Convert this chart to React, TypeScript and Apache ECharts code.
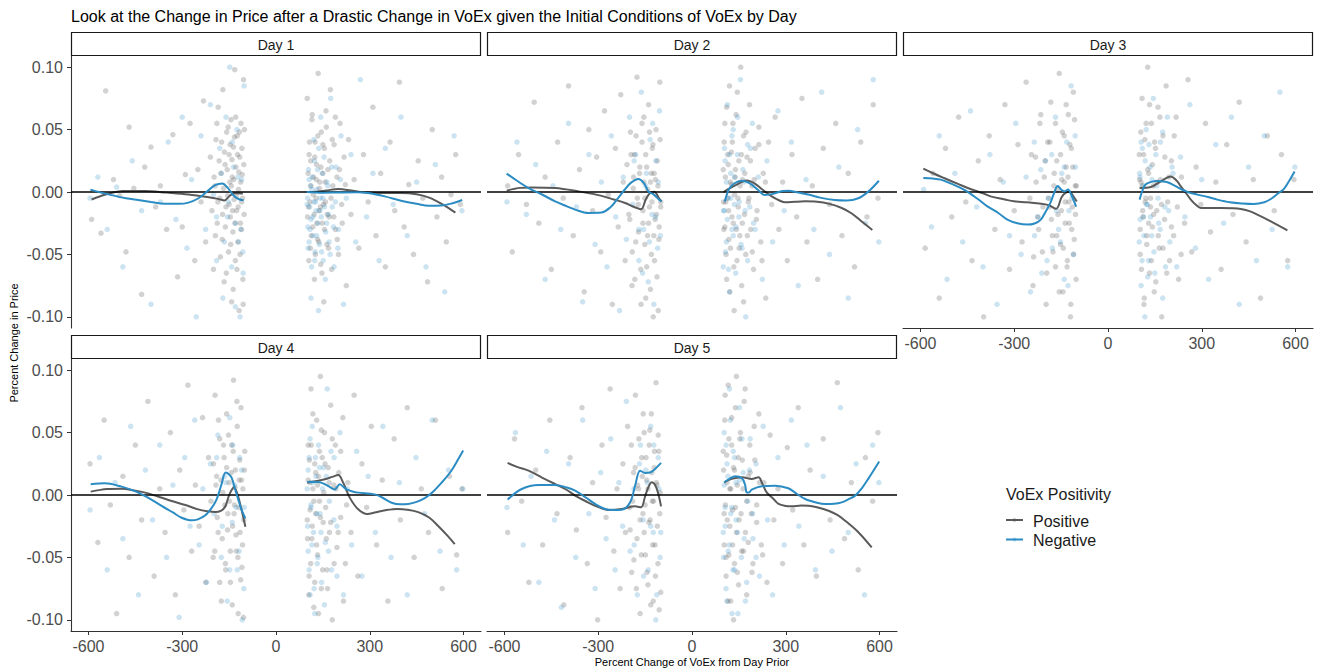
import { useEffect, useRef } from "react";
import * as echarts from "echarts";

const FONT = "'Liberation Sans', Arial, Helvetica, sans-serif";
const GREY = "#5a5a5a";
const BLUE = "#2b8cc4";

const dayLabels = ["Day 1", "Day 2", "Day 3", "Day 4", "Day 5"];
const xTickValues = [-600, -300, 0, 300, 600];
const yTickValues = [-0.1, -0.05, 0, 0.05, 0.1];
const legendLabels = ["Positive", "Negative"];

// Scatter observations: flat (x, y) pairs, x in percent, y in thousandths of price change
const day1PosPts = [
  -590, -22, -560, -33, -545, 81, -520, 10, -500, -3, -480, -48, -470, 52, -455, 3, -430, -82, -420, 20, -400, 36, -385, -12,
  -370, 5, -350, -30, -330, 46, -315, -68, -300, -28, -290, 14, -275, 55, -260, -55, -250, 18, -240, -8, -232, 73, -225, -40,
  -210, 28, -205, -15, -200, -62, -195, 5, -192, 42, -188, -25, -185, 68, -180, -5, -176, 15, -172, -38, -170, 82, -166, -72,
  -163, 22, -160, -12, -158, 48, -155, -3, -152, -48, -150, 30, -148, 8, -146, -20, -144, 58, -142, -88, -140, 12, -138, -32,
  -136, 36, -134, -6, -132, 98, -130, -55, -128, 20, -126, -15, -124, 45, -122, -40, -120, 2, -118, -95, -116, 28, -114, -25,
  -112, 55, -110, -8, -108, 14, -106, -70, -104, 90, -102, -18,
  100, 75, 104, -12, 106, 30, 110, -45, 112, 5, 115, 58, 118, -28, 120, 12, 123, -70, 125, 40, 128, -5, 130, 22, 133, -38,
  135, 95, 138, -15, 140, 8, 143, -58, 145, 48, 148, -25, 150, 15, 153, -88, 155, 35, 158, -8, 160, 65, 163, -42, 166, 18,
  170, -20, 174, 82, 178, -62, 182, 5, 186, 38, 190, -30, 195, 12, 200, -50, 205, 55, 210, -10, 218, 28, 225, -75, 232, 42,
  240, -18, 250, 10, 265, -45, 280, 30, 295, -8, 310, 68, 320, -35, 335, 15, 350, -60, 365, 40, 380, -15, 395, 88, 410, -28,
  425, 6, 440, -50, 455, 25, 470, -5, 485, -72, 500, 50, 515, -20, 530, 12, 545, -40, 560, -2, 575, 30, 590, -10,
];
const day1PosDense = [
  -198, 12, -194, -35, -189, 55, -186, -8, -182, 25, -178, -52, -174, 40, -171, -18, -168, 3, -165, 32, -162, -28, -159, -65,
  -156, 18, -153, 52, -150, -10, -147, 38, -145, -42, -143, 5, -141, 26, -139, -15, -137, -78, -135, 10, -133, 44, -131, -25,
  -129, 60, -127, -3, -125, -62, -123, 30, -121, -12, -119, 16, -117, 48, -115, -50, -113, 8, -111, -30, -109, 35, -107, -5,
  -105, -90, -103, 22, -101, 50,
  101, -20, 103, 15, 105, -55, 107, 40, 109, -8, 111, 25, 113, -35, 116, 62, 119, -2, 122, -18, 124, 28, 126, -50, 129, 10,
  131, -25, 134, 45, 137, -40, 139, 3, 142, -12, 144, 20, 147, -65, 150, 38, 152, -10, 155, -30, 157, 8, 161, 52, 164, -18,
  168, -45, 172, 25, 176, -5, 180, 42, 185, -20, 190, 60, 196, -38, 203, 18, 212, -25, 222, 6,
];
const day1NegPts = [
  -595, -5, -570, 12, -540, -30, -510, 4, -490, -60, -460, 25, -430, -15, -400, -90, -370, -8, -345, 40, -320, -22, -300, 60,
  -285, -45, -270, 10, -255, -100, -240, 45, -225, -30, -210, 70, -200, -2, -190, -55, -180, 35, -170, -85, -160, 60, -155, -20,
  -148, 100, -142, -60, -136, 20, -130, -92, -125, 50, -120, -40, -115, -100, -110, 10, -105, -65, -102, 85,
  100, -10, 103, -45, 106, 10, 109, -30, 112, -85, 115, 2, 118, -20, 121, 42, 124, -55, 127, -8, 130, -35, 133, 18, 136, -95,
  140, -15, 143, 60, 146, -48, 150, -5, 154, 28, 158, -70, 162, -25, 166, 5, 170, -40, 175, 75, 180, -12, 186, -60, 192, 20,
  200, -30, 208, 45, 216, -90, 225, -5, 240, 30, 255, -40, 270, 90, 290, -20, 310, 15, 330, -55, 350, 35, 375, -10, 400, 60,
  420, -35, 450, 8, 480, -60, 510, 22, 540, -80, 570, 45, 595, -15,
];
const day1NegDense = [
  -190, -20, -175, 15, -165, -40, -152, -8, -140, 40, -130, -25, -122, 12, -112, -30, -106, -48,
  101, -5, 102, -28, 104, 18, 106, -40, 108, -12, 110, 5, 112, -22, 114, -60, 116, 12, 118, -35, 121, -8, 123, 25, 125, -48,
  128, -15, 131, 2, 134, -25, 137, 35, 139, -42, 142, -5, 145, -20, 148, 15, 151, -55, 155, -12, 159, -32, 163, 8, 168, -18,
  173, -50, 178, 20, 184, -28, 190, -8, 198, -45, 206, 10,
];
const day2PosPts = [
  -590, 5, -575, -48, -555, 30, -530, -10, -505, 72, -490, -25, -470, 12, -450, -62, -430, 40, -412, -5, -395, 85, -380, -35,
  -360, 18, -345, -80, -330, 50, -318, -15, -305, 28, -292, -48, -280, 65, -268, -2, -255, -90, -245, 35, -236, -28, -228, 78,
  -220, 8, -214, -55, -208, 22, -202, -18, -197, 48, -192, -75, -188, 3, -184, 30, -180, -40, -176, 92, -172, -10, -168, 15,
  -164, -62, -160, 40, -157, -25, -154, 60, -151, -5, -148, -85, -145, 20, -142, -35, -139, 70, -136, -12, -133, 8, -130, -50,
  -127, 35, -124, -100, -121, 15, -118, -22, -115, 50, -112, -68, -109, 5, -106, -38, -103, 88, -100, -8,
  100, 18, 102, -30, 105, 55, 108, -8, 111, -70, 114, 30, 117, -15, 120, 85, 123, -45, 126, 6, 129, 40, 132, -25, 135, -95,
  138, 12, 141, 62, 144, -55, 147, -5, 150, 25, 153, -35, 156, 100, 159, -75, 162, 10, 165, 45, 168, -18, 172, -50, 176, 28,
  180, -8, 184, 70, 188, -30, 192, 5, 197, -62, 202, 35, 208, -15, 214, 52, 220, -40, 228, 15, 236, -85, 245, 40, 255, -10,
  266, 60, 278, -30, 290, 8, 305, -55, 320, 30, 335, -20, 352, 75, 368, -40, 385, 5, 402, -70, 420, 35, 440, -10, 460, 55,
  480, -35, 500, 15, 520, -60, 540, 40, 560, -20, 580, 70, 595, -5,
];
const day2PosDense = [
  -199, -22, -195, 30, -191, -48, -187, 12, -183, -70, -179, 45, -175, -5, -171, -32, -167, 20, -163, -90, -160, 55, -157, -15,
  -154, 8, -151, -42, -148, 30, -145, -60, -142, 2, -139, -25, -136, 48, -133, -78, -130, 15, -128, -8, -125, 38, -122, -35,
  -120, -55, -117, 10, -114, -18, -111, 25, -108, -95, -105, -28, -102, 42, -100, -12,
  101, -8, 103, 40, 105, -28, 107, 12, 109, -50, 111, 68, 113, -5, 116, 22, 118, -38, 121, -80, 123, 8, 126, 32, 128, -20,
  131, 55, 134, -60, 136, -2, 139, 18, 142, -30, 145, 80, 148, -12, 151, -45, 154, 5, 158, 30, 161, -25, 165, -88, 169, 15,
  173, 48, 177, -35, 182, -5, 187, 25, 193, -48, 199, 10, 206, -22, 214, 38, 224, -55, 235, 8,
];
const day2NegPts = [
  -592, -8, -560, 40, -530, -18, -500, 22, -470, -70, -445, 5, -420, -30, -395, 55, -370, -12, -350, -88, -330, 30, -310, -42,
  -290, 8, -272, -60, -258, 45, -244, -20, -232, -95, -220, 12, -210, -38, -200, 60, -190, -10, -180, 30, -170, -55, -162, 80,
  -155, -30, -148, 5, -140, -72, -134, 42, -128, -18, -122, -90, -116, 25, -110, -45, -104, 65,
  100, -60, 103, -15, 106, 25, 110, -40, 113, 70, 116, -5, 120, -80, 124, 15, 128, -30, 132, 50, 136, -10, 140, -65, 145, 30,
  150, -20, 155, 90, 160, -45, 166, 8, 172, -100, 178, 38, 185, -12, 193, 55, 202, -30, 212, 12, 225, -70, 240, 25, 258, -40,
  275, 65, 295, -15, 318, 40, 340, -75, 365, 10, 390, -30, 415, 80, 440, -50, 470, 20, 500, -85, 530, 50, 555, -25, 580, 90,
  598, -40,
];
const day2NegDense = [
  -185, 25, -170, -30, -158, -65, -146, 15, -136, -40, -126, 55, -117, -20, -108, 8, -101, -35,
  101, -15, 104, 35, 107, -48, 110, 8, 113, -22, 117, -62, 120, 30, 124, -5, 128, 45, 132, -35, 136, 12, 141, -28, 146, 60,
  151, -8, 157, -42, 163, 18, 170, -15, 178, -55, 187, 35, 197, -25,
];
const day3PosPts = [
  -585, -45, -560, 15, -540, -85, -520, 35, -500, -20, -478, 60, -455, -8, -435, -55, -415, 25, -398, -100, -380, 45, -362, -30,
  -345, 10, -330, 70, -315, -62, -300, -15, -288, 38, -275, -40, -262, 88, -250, -5, -240, -75, -232, 28, -225, -20, -218, 55,
  -210, -48, -204, 12, -198, -90, -193, 40, -188, -12, -183, 72, -178, -35, -173, 5, -168, -60, -164, 25, -160, -18, -156, 95,
  -152, -42, -148, 10, -144, -80, -140, 45, -137, -8, -134, 20, -130, -55, -127, 62, -124, -25, -120, -100, -117, 35, -114, -12,
  -111, 80, -108, -38, -105, 5, -102, -70,
  100, 30, 103, -50, 106, 8, 109, 75, 112, -20, 115, -90, 118, 42, 121, -5, 124, -35, 127, 100, 130, 15, 133, -65, 136, -12,
  139, 55, 142, -28, 145, 5, 148, -80, 152, 35, 156, -15, 160, 68, 164, -45, 168, 10, 172, -100, 176, 45, 181, -22, 186, 85,
  191, -8, 197, -55, 203, 25, 210, -35, 218, 60, 226, -70, 235, 12, 245, -25, 256, 90, 268, -48, 282, 20, 297, -10, 312, 55,
  328, -32, 345, 8, 362, -62, 380, 38, 400, -18, 420, 72, 442, -40, 465, 10, 488, -85, 510, 45, 532, -15, 555, 30, 575, -55,
  595, 10,
];
const day3PosDense = [
  -245, 30, -238, -52, -230, 8, -222, -30, -215, 62, -208, -12, -201, 25, -196, -65, -191, -5, -186, 40, -181, -22, -176, -48,
  -172, 15, -168, 55, -164, -35, -160, 2, -156, -80, -152, 30, -149, -15, -146, 48, -143, -45, -140, 8, -137, -25, -134, 70,
  -131, -60, -128, 12, -125, -8, -122, 38, -119, -90, -116, -30, -113, 20, -110, -50, -107, 58, -104, -18, -101, 5,
  101, 10, 103, -30, 105, 48, 107, -62, 109, 5, 111, -15, 114, 30, 116, -85, 119, -8, 122, 55, 124, -42, 127, 18, 130, -25,
  133, 70, 136, -5, 139, -55, 142, 22, 146, -18, 149, 40, 153, -72, 157, 8, 161, -35, 166, 60, 171, -10, 176, -45, 182, 28,
  188, -65, 195, 12, 203, -28, 212, 45, 222, -12, 234, -50,
];
const day3NegPts = [
  -590, 2, -565, -28, -540, 45, -515, -70, -490, 15, -465, -40, -440, 65, -420, -12, -400, -60, -378, 30, -355, -90, -335, 8,
  -315, -35, -295, 55, -278, -50, -262, 12, -248, -80, -236, 40, -224, -20, -212, -65, -200, 25, -190, -5, -178, -45, -168, 60,
  -158, -30, -148, 15, -140, -70, -132, 40, -125, -15, -118, 85, -111, -50, -104, 20,
  100, -40, 103, 12, 106, -75, 110, 35, 114, -20, 118, -100, 122, 50, 126, -10, 130, -55, 135, 20, 140, -35, 145, 75, 150, -65,
  156, 5, 162, -25, 168, 40, 175, -85, 182, -12, 190, 60, 198, -40, 208, 15, 220, -60, 232, 28, 246, -20, 262, 70, 280, -45,
  300, 10, 322, -70, 345, 38, 370, -25, 395, 60, 420, -90, 450, 20, 475, -55, 500, 45, 525, -30, 550, 80, 575, -60, 598, 20,
];
const day3NegDense = [
  -235, -35, -215, 18, -195, -55, -180, 30, -165, -15, -152, -40, -140, 20, -128, -75, -115, -5, -105, 45,
  101, 15, 103, -22, 106, 40, 109, -55, 112, 5, 115, -35, 119, 25, 123, -10, 127, -68, 131, 38, 136, -20, 141, 10, 147, -48,
  153, 30, 160, -5, 167, -30, 175, 48, 184, -60, 194, -15, 205, 20,
];
const day4PosPts = [
  -595, 25, -570, -38, -550, 60, -530, -8, -510, -95, -490, 15, -470, -50, -450, 40, -430, -20, -410, 75, -390, -65, -372, 5,
  -355, -30, -338, 50, -322, -80, -308, 20, -295, -12, -282, 88, -270, -45, -258, 8, -246, -25, -235, 62, -225, -70, -216, 30,
  -208, -5, -201, -50, -195, 80, -190, 15, -185, -30, -180, 45, -175, -85, -170, 2, -166, 30, -162, -55, -158, 65, -154, -15,
  -150, 10, -146, -70, -142, 40, -139, -25, -136, 92, -133, -8, -130, 20, -127, -45, -124, 55, -121, -95, -118, 12, -115, -30,
  -112, 70, -109, -58, -106, 5, -103, -20, -100, 35,
  100, -20, 103, 40, 106, -65, 109, 10, 112, 85, 115, -35, 118, 5, 121, -90, 124, 25, 127, -15, 130, 60, 133, -48, 136, 15,
  139, -5, 142, 95, 145, -75, 148, 30, 151, -22, 155, 50, 159, -10, 163, -60, 167, 22, 171, -30, 175, 72, 180, -100, 185, 8,
  190, 40, 195, -42, 201, 18, 207, -18, 214, 62, 222, -55, 230, 10, 240, -30, 250, 80, 262, -65, 275, 25, 290, -10, 305, 55,
  322, -40, 340, 12, 358, -85, 378, 45, 398, -20, 420, 70, 442, -50, 465, 5, 488, -30, 510, 60, 532, -75, 555, 15, 578, -48,
  595, 5,
];
const day4PosDense = [
  -200, 25, -196, -45, -192, 8, -188, -18, -184, 60, -180, -70, -176, 12, -172, -35, -168, 40, -164, -8, -161, -60, -158, 22,
  -155, -28, -152, 48, -149, -5, -146, -45, -143, 18, -140, -88, -137, 35, -134, -15, -131, 6, -128, -32, -125, 75, -122, -50,
  -119, -10, -116, 28, -113, -68, -110, 12, -107, -40, -104, -98, -101, 20,
  101, -35, 103, 12, 105, -80, 107, 28, 109, -12, 111, -55, 113, 40, 116, -25, 118, 65, 121, -5, 124, -70, 127, 18, 130, -40,
  133, 8, 136, -95, 139, 35, 142, -18, 145, 52, 149, -60, 153, 2, 157, 25, 161, -35, 165, -75, 170, 10, 175, -22, 180, 45,
  186, -55, 192, 5, 199, -30, 207, 35, 216, -85, 226, -8,
];
const day4NegPts = [
  -595, -12, -565, 30, -540, -60, -515, 10, -490, -35, -465, 55, -440, -80, -418, 20, -395, -20, -372, 40, -350, -50, -330, 8,
  -310, -98, -292, 30, -275, -25, -260, 60, -246, -40, -234, 5, -222, -70, -210, 25, -198, -15, -186, 48, -175, -50, -165, 15,
  -156, -85, -148, 62, -140, -22, -132, 8, -124, -60, -116, 30, -108, -100, -102, -10,
  100, 5, 103, -45, 106, 30, 109, -80, 112, -10, 116, 55, 120, -30, 124, -95, 128, 15, 132, -55, 136, 40, 141, -15, 146, -70,
  152, 22, 158, -38, 164, 85, 171, -5, 178, -60, 186, 30, 195, -25, 205, 50, 216, -80, 228, 5, 242, -40, 258, 35, 275, -65,
  295, 15, 318, -30, 342, 55, 368, -50, 395, 10, 420, -80, 448, 30, 475, -15, 500, 60, 525, -45, 552, 20, 578, -60, 598, 5,
];
const day4NegDense = [
  -190, 30, -172, -25, -160, 10, -148, -60, -138, 40, -128, -10, -118, -45, -110, 20, -103, -75,
  101, -25, 103, 20, 106, -60, 109, 45, 112, -8, 115, -40, 118, 10, 122, -75, 126, 30, 130, -15, 134, -50, 139, 22, 144, -30,
  149, 5, 155, -88, 161, 15, 168, -45, 176, 35, 185, -20, 195, -65,
];
const day5PosPts = [
  -590, -30, -568, 45, -545, -5, -522, -70, -500, 20, -478, -40, -455, 60, -432, -15, -410, -88, -390, 30, -370, -28, -352, 70,
  -335, -55, -318, 10, -302, -100, -288, 40, -275, -18, -262, 85, -250, -45, -240, 5, -230, -75, -221, 25, -213, -30, -206, 55,
  -199, -10, -193, -62, -187, 18, -181, 80, -176, -35, -171, 5, -166, -95, -161, 30, -157, -15, -153, 50, -149, -48, -145, 12,
  -141, -72, -137, 40, -134, -20, -130, 65, -127, -5, -124, -85, -121, 22, -118, -40, -115, 90, -112, 8, -109, -55, -106, 35,
  -103, -15, -100, -78,
  100, 35, 103, -15, 106, 80, 109, -50, 112, 10, 115, -85, 118, 45, 121, -25, 124, 5, 127, 62, 130, -40, 133, -100, 136, 20,
  139, -10, 142, 95, 145, -62, 148, 30, 151, -20, 155, 50, 159, -45, 163, 5, 167, 75, 171, -30, 175, -80, 180, 15, 185, 40,
  190, -15, 195, -55, 201, 28, 207, -8, 214, 65, 222, -40, 230, 10, 240, -70, 250, 48, 262, -20, 275, 5, 290, -55, 305, 38,
  322, -12, 340, 70, 358, -40, 378, 20, 398, -65, 420, 45, 442, -20, 465, 90, 488, -35, 510, 10, 532, -60, 555, 30, 578, -5,
  595, 50,
];
const day5PosDense = [
  -198, -28, -194, 40, -190, -5, -186, -52, -182, 22, -178, -75, -174, 8, -170, 45, -166, -20, -162, -48, -159, 15, -156, 65,
  -153, -30, -150, -8, -147, 30, -144, -62, -141, 5, -138, -22, -135, 52, -132, -88, -129, 18, -126, -40, -123, -5, -120, 35,
  -117, -65, -114, 10, -111, -25, -108, 48, -105, -92, -102, 2,
  101, 20, 103, -40, 105, 60, 107, -8, 109, -65, 111, 32, 113, -20, 116, 88, 118, -48, 121, 5, 124, -85, 127, 40, 130, -12,
  133, 22, 136, -55, 139, 70, 142, -30, 145, 8, 149, -72, 153, 45, 157, -15, 161, 28, 165, -45, 170, 85, 175, -5, 180, -38,
  186, 18, 192, -62, 199, 55, 207, -22, 216, 10, 226, -48,
];
const day5NegPts = [
  -592, -10, -565, 50, -540, -40, -515, 15, -490, -70, -465, 35, -440, -20, -418, -90, -395, 25, -372, -50, -350, 60, -330, -15,
  -310, -75, -292, 18, -275, -35, -260, 45, -246, -60, -234, 10, -222, -25, -210, 75, -198, -45, -186, 5, -175, -80, -165, 40,
  -156, -20, -148, 20, -140, -60, -132, 55, -124, -30, -116, -100, -108, 30, -102, -50,
  100, -30, 103, 50, 106, -10, 109, -75, 112, 25, 116, -45, 120, 85, 124, -15, 128, -95, 132, 35, 136, -60, 141, 10, 146, -30,
  152, 70, 158, -50, 164, 18, 171, -85, 178, -5, 186, 45, 195, -35, 205, 25, 216, -65, 228, 55, 242, -20, 258, -80, 275, 30,
  295, -40, 318, 60, 342, -25, 368, 40, 395, -60, 420, 15, 448, -45, 475, 70, 500, -30, 525, 25, 552, -80, 578, 40, 598, 10,
];
const day5NegDense = [
  -185, -40, -168, 25, -155, -65, -143, 10, -132, -25, -122, 40, -113, -80, -106, 5, -100, -30,
  101, -50, 103, 8, 106, -25, 109, 40, 112, -85, 115, 15, 119, -40, 123, 60, 127, -10, 131, -60, 136, 30, 141, -20, 147, -95,
  153, 12, 160, 45, 167, -35, 175, -70, 184, 20, 194, -15, 205, -50,
];

// Smoothed trend knots: [x, price change]
const day1PosLeft = [[-590, -0.006], [-545, -0.002], [-490, 0.0008], [-420, 0.0008], [-350, -0.0005], [-280, -0.002], [-220, -0.004], [-185, -0.0055], [-165, -0.0068], [-148, -0.003], [-132, -0.001], [-106, -0.0012]];
const day1NegLeft = [[-594, 0.0019], [-560, -0.0005], [-526, -0.0025], [-480, -0.005], [-441, -0.0065], [-400, -0.008], [-356, -0.0095], [-310, -0.0095], [-280, -0.0085], [-248, -0.005], [-220, 0.0005], [-195, 0.0055], [-172, 0.0068], [-155, 0.0035], [-135, -0.003], [-118, -0.0058], [-104, -0.0066]];
const day1PosRight = [[98, 0], [130, 0.0003], [160, 0.0012], [200, 0.0024], [240, 0.0012], [280, -0.0002], [330, -0.0008], [400, -0.0008], [450, -0.0018], [490, -0.0045], [530, -0.0095], [574, -0.0165]];
const day1NegRight = [[98, 0], [150, -0.0006], [200, -0.0004], [260, -0.0002], [300, -0.001], [348, -0.0035], [400, -0.007], [450, -0.0095], [490, -0.011], [530, -0.0108], [565, -0.009], [596, -0.0064]];

const day2PosLeft = [[-593, 0.0011], [-550, 0.0033], [-513, 0.0037], [-438, 0.0032], [-363, 0.0005], [-300, -0.0025], [-250, -0.006], [-214, -0.0088], [-185, -0.012], [-163, -0.0138], [-148, -0.006], [-135, -0.001], [-120, 0.0003], [-108, -0.004], [-98, -0.0077]];
const day2NegLeft = [[-593, 0.0147], [-560, 0.009], [-523, 0.0032], [-480, -0.002], [-438, -0.0075], [-400, -0.0115], [-374, -0.0141], [-331, -0.0168], [-290, -0.0165], [-260, -0.012], [-240, -0.006], [-215, 0.002], [-195, 0.0075], [-172, 0.0105], [-155, 0.0075], [-138, 0], [-125, -0.0015], [-112, -0.0045], [-98, -0.0077]];
const day2PosRight = [[101, 0], [120, 0.003], [140, 0.0055], [175, 0.0093], [200, 0.007], [225, 0.002], [255, -0.0035], [280, -0.0068], [298, -0.0083], [330, -0.0078], [362, -0.0075], [400, -0.0078], [440, -0.0095], [479, -0.0128], [510, -0.017], [540, -0.023], [577, -0.0304]];
const day2NegRight = [[105, -0.0077], [118, 0.002], [135, 0.0068], [158, 0.009], [185, 0.007], [210, 0.002], [233, -0.0024], [260, -0.0015], [290, 0.0008], [308, 0.001], [340, -0.0005], [372, -0.002], [410, -0.0045], [457, -0.0064], [495, -0.0068], [532, -0.005], [565, 0.0005], [598, 0.009]];

const day3PosLeft = [[-591, 0.0187], [-560, 0.015], [-525, 0.0112], [-480, 0.0065], [-440, 0.0024], [-400, -0.001], [-376, -0.0035], [-330, -0.006], [-301, -0.0075], [-260, -0.0082], [-220, -0.0092], [-190, -0.0105], [-166, -0.0135], [-148, -0.004], [-135, -0.0005], [-124, 0.0003], [-112, -0.003], [-100, -0.0077]];
const day3NegLeft = [[-591, 0.0112], [-560, 0.0108], [-535, 0.0099], [-500, 0.0065], [-461, 0.0019], [-420, -0.005], [-386, -0.0115], [-350, -0.017], [-322, -0.0221], [-290, -0.025], [-258, -0.0261], [-235, -0.0252], [-215, -0.0221], [-198, -0.015], [-184, -0.0085], [-172, -0.0005], [-161, 0.0048], [-148, 0.0015], [-138, 0.0005], [-128, 0.002], [-118, -0.002], [-102, -0.0117]];
const day3PosRight = [[101, 0.0032], [137, 0.004], [169, 0.0085], [201, 0.0125], [220, 0.009], [233, 0.0045], [250, -0.001], [265, -0.0061], [282, -0.0105], [297, -0.0128], [330, -0.0128], [361, -0.0128], [400, -0.013], [425, -0.0136], [455, -0.0155], [478, -0.0181], [521, -0.0235], [574, -0.0307]];
const day3NegRight = [[101, -0.0061], [110, 0.001], [120, 0.006], [141, 0.0083], [158, 0.0088], [172, 0.0085], [190, 0.0078], [210, 0.0055], [233, 0.0024], [260, -0.0005], [286, -0.0021], [320, -0.004], [350, -0.0061], [390, -0.0082], [430, -0.0092], [467, -0.0096], [500, -0.0082], [521, -0.0056], [545, -0.001], [563, 0.0025], [580, 0.009], [597, 0.0165]];

const day4PosLeft = [[-593, 0.0027], [-540, 0.0048], [-494, 0.0051], [-450, 0.0035], [-419, 0.0019], [-380, -0.001], [-334, -0.0048], [-290, -0.008], [-249, -0.0115], [-220, -0.013], [-195, -0.0137], [-175, -0.0125], [-162, -0.009], [-151, -0.0008], [-142, 0.004], [-135, 0.006], [-125, 0.002], [-112, -0.01], [-98, -0.0254]];
const day4NegLeft = [[-593, 0.0086], [-548, 0.0094], [-494, 0.0067], [-450, 0.003], [-430, 0.0005], [-400, -0.0035], [-366, -0.0088], [-330, -0.014], [-302, -0.0182], [-270, -0.0203], [-250, -0.0195], [-227, -0.0165], [-205, -0.01], [-190, -0.0035], [-175, 0.008], [-161, 0.018], [-150, 0.0165], [-142, 0.0139], [-130, 0.004], [-121, -0.0035], [-110, -0.012], [-98, -0.0187]];
const day4PosRight = [[100, 0.0099], [130, 0.0112], [156, 0.0126], [180, 0.0145], [199, 0.016], [215, 0.0099], [236, -0.0021], [263, -0.0115], [292, -0.0153], [320, -0.0138], [350, -0.0122], [389, -0.0112], [420, -0.0118], [455, -0.0137], [490, -0.018], [519, -0.0249], [550, -0.033], [572, -0.0394]];
const day4NegRight = [[100, 0.0104], [135, 0.0104], [167, 0.0072], [188, 0.0045], [204, 0.0086], [216, 0.0065], [226, 0.0045], [245, 0.0028], [263, 0.0019], [316, 0.0005], [340, -0.002], [370, -0.0062], [398, -0.0075], [423, -0.0072], [450, -0.0055], [476, -0.0025], [500, 0.002], [530, 0.0099], [560, 0.019], [583, 0.0286], [599, 0.0356]];

const day5PosLeft = [[-590, 0.0257], [-560, 0.0225], [-523, 0.0195], [-480, 0.014], [-438, 0.0088], [-400, 0.004], [-374, -0.0005], [-340, -0.005], [-310, -0.0086], [-267, -0.012], [-225, -0.0112], [-182, -0.0091], [-163, -0.0099], [-150, -0.001], [-140, 0.006], [-129, 0.0102], [-118, 0.008], [-108, 0.001], [-99, -0.0091]];
const day5NegLeft = [[-590, -0.0037], [-545, 0.0048], [-491, 0.008], [-438, 0.008], [-400, 0.006], [-374, 0.0035], [-340, -0.002], [-310, -0.0072], [-278, -0.0112], [-250, -0.012], [-225, -0.0118], [-198, -0.0059], [-182, 0.0075], [-166, 0.0195], [-150, 0.0177], [-135, 0.018], [-120, 0.0205], [-99, 0.0257]];
const day5PosRight = [[103, 0.0102], [127, 0.0129], [160, 0.0142], [191, 0.0129], [213, 0.0142], [225, 0.009], [239, 0.0021], [260, -0.003], [277, -0.0072], [300, -0.0088], [319, -0.0091], [350, -0.0085], [373, -0.0086], [400, -0.0098], [437, -0.0126], [465, -0.016], [490, -0.0206], [533, -0.03], [575, -0.042]];
const day5NegRight = [[103, 0.0102], [120, 0.013], [138, 0.015], [160, 0.0134], [170, 0.008], [175, 0.0021], [182, 0.002], [191, 0.0043], [223, 0.007], [266, 0.0075], [308, 0.0054], [335, 0.001], [362, -0.0032], [400, -0.0062], [426, -0.0072], [455, -0.007], [479, -0.0059], [500, -0.0035], [522, -0.0005], [545, 0.006], [564, 0.0129], [599, 0.0268]];

const posPoints = [
  day1PosPts.concat(day1PosDense), day2PosPts.concat(day2PosDense), day3PosPts.concat(day3PosDense),
  day4PosPts.concat(day4PosDense), day5PosPts.concat(day5PosDense),
];
const negPoints = [
  day1NegPts.concat(day1NegDense), day2NegPts.concat(day2NegDense), day3NegPts.concat(day3NegDense),
  day4NegPts.concat(day4NegDense), day5NegPts.concat(day5NegDense),
];
const posCurves = [
  [day1PosLeft, day1PosRight], [day2PosLeft, day2PosRight], [day3PosLeft, day3PosRight],
  [day4PosLeft, day4PosRight], [day5PosLeft, day5PosRight],
];
const negCurves = [
  [day1NegLeft, day1NegRight], [day2NegLeft, day2NegRight], [day3NegLeft, day3NegRight],
  [day4NegLeft, day4NegRight], [day5NegLeft, day5NegRight],
];

// Facet layout (pixels)
const PANEL_W = 410;
const PANEL_H = 272;
const panels = [
  { left: 71, top: 56, showY: true, showX: false },
  { left: 487, top: 56, showY: false, showX: false },
  { left: 903, top: 56, showY: false, showX: true },
  { left: 71, top: 359, showY: true, showX: true },
  { left: 487, top: 359, showY: false, showX: true },
];
const X_MIN = -656;
const X_MAX = 656;
const Y_MIN = -0.109;
const Y_MAX = 0.109;

function pairs(flat: number[]): number[][] {
  const out: number[][] = [];
  for (let i = 0; i + 1 < flat.length; i += 2) out.push([flat[i], flat[i + 1] / 1000]);
  return out;
}

function buildOption(): echarts.EChartsOption {
  const grid: any[] = [];
  const xAxis: any[] = [];
  const yAxis: any[] = [];
  const series: any[] = [];
  const graphic: any[] = [];

  panels.forEach((p, i) => {
    grid.push({ left: p.left, top: p.top, width: PANEL_W, height: PANEL_H, containLabel: false });
    xAxis.push({
      gridIndex: i,
      type: "value",
      min: X_MIN,
      max: X_MAX,
      show: p.showX,
      splitLine: { show: false },
      axisLine: { show: true, onZero: false, lineStyle: { color: "#333333", width: 1.1 } },
      axisTick: { show: true, length: 4, customValues: xTickValues, lineStyle: { color: "#333333" } },
      axisLabel: {
        show: true,
        customValues: xTickValues,
        fontSize: 16,
        color: "#4d4d4d",
        fontFamily: FONT,
        margin: 7,
      },
    });
    yAxis.push({
      gridIndex: i,
      type: "value",
      min: Y_MIN,
      max: Y_MAX,
      show: p.showY,
      splitLine: { show: false },
      axisLine: { show: true, onZero: false, lineStyle: { color: "#333333", width: 1.1 } },
      axisTick: { show: true, length: 4, customValues: yTickValues, lineStyle: { color: "#333333" } },
      axisLabel: {
        show: true,
        customValues: yTickValues,
        formatter: (v: number) => v.toFixed(2),
        fontSize: 16,
        color: "#4d4d4d",
        fontFamily: FONT,
        margin: 8,
      },
    });

    series.push({
      type: "scatter",
      name: legendLabels[0],
      xAxisIndex: i,
      yAxisIndex: i,
      data: pairs(posPoints[i]),
      symbolSize: 5.5,
      itemStyle: { color: "rgba(80,80,80,0.32)" },
      clip: true,
      silent: true,
      z: 1,
    });
    series.push({
      type: "scatter",
      name: legendLabels[1],
      xAxisIndex: i,
      yAxisIndex: i,
      data: pairs(negPoints[i]),
      symbolSize: 5.5,
      itemStyle: { color: "rgba(43,140,196,0.3)" },
      clip: true,
      silent: true,
      z: 1,
    });

    // zero reference line
    series.push({
      type: "line",
      xAxisIndex: i,
      yAxisIndex: i,
      data: [],
      silent: true,
      z: 3,
      markLine: {
        silent: true,
        symbol: "none",
        label: { show: false },
        lineStyle: { color: "#000000", width: 1.5, type: "solid" },
        data: [{ yAxis: 0 }],
      },
    });

    posCurves[i].forEach((seg) => {
      series.push({
        type: "line",
        name: legendLabels[0],
        xAxisIndex: i,
        yAxisIndex: i,
        data: seg,
        smooth: 0.35,
        showSymbol: false,
        clip: true,
        silent: true,
        lineStyle: { color: GREY, width: 2 },
        z: 4,
      });
    });
    negCurves[i].forEach((seg) => {
      series.push({
        type: "line",
        name: legendLabels[1],
        xAxisIndex: i,
        yAxisIndex: i,
        data: seg,
        smooth: 0.35,
        showSymbol: false,
        clip: true,
        silent: true,
        lineStyle: { color: BLUE, width: 2 },
        z: 5,
      });
    });

    // facet strip
    const stripTop = p.top - 24;
    graphic.push({
      type: "rect",
      shape: { x: p.left + 0.5, y: stripTop + 0.5, width: PANEL_W - 1, height: 23 },
      style: { fill: "#ffffff", stroke: "#1a1a1a", lineWidth: 1.2 },
      silent: true,
    });
    graphic.push({
      type: "text",
      x: p.left + PANEL_W / 2,
      y: stripTop + 12.5,
      style: {
        text: dayLabels[i],
        fontSize: 14,
        fontFamily: FONT,
        fill: "#1a1a1a",
        align: "center",
        verticalAlign: "middle",
      },
      silent: true,
    });
  });

  graphic.push({
    type: "text",
    x: 71,
    y: 16,
    style: {
      text: "Look at the Change in Price after a Drastic Change in VoEx given the Initial Conditions of VoEx by Day",
      fontSize: 16,
      fontFamily: FONT,
      fill: "#000000",
      align: "left",
      verticalAlign: "middle",
    },
    silent: true,
  });
  graphic.push({
    type: "text",
    x: 692,
    y: 662,
    style: {
      text: "Percent Change of VoEx from Day Prior",
      fontSize: 11,
      fontFamily: FONT,
      fill: "#000000",
      align: "center",
      verticalAlign: "middle",
    },
    silent: true,
  });
  graphic.push({
    type: "text",
    x: 14,
    y: 343,
    rotation: Math.PI / 2,
    style: {
      text: "Percent Change in Price",
      fontSize: 11,
      fontFamily: FONT,
      fill: "#000000",
      align: "center",
      verticalAlign: "middle",
    },
    silent: true,
  });

  // legend
  graphic.push({
    type: "text",
    x: 1006,
    y: 494,
    style: { text: "VoEx Positivity", fontSize: 16, fontFamily: FONT, fill: "#1a1a1a", align: "left", verticalAlign: "middle" },
    silent: true,
  });
  const legendColors = [GREY, BLUE];
  legendLabels.forEach((lab, k) => {
    const y = 520 + k * 19.5;
    graphic.push({
      type: "line",
      shape: { x1: 1006, y1: y, x2: 1023, y2: y },
      style: { stroke: legendColors[k], lineWidth: 2 },
      silent: true,
    });
    graphic.push({
      type: "circle",
      shape: { cx: 1014.5, cy: y, r: 2 },
      style: { fill: legendColors[k], opacity: 0.35 },
      silent: true,
    });
    graphic.push({
      type: "text",
      x: 1033,
      y: y + 1,
      style: { text: lab, fontSize: 16, fontFamily: FONT, fill: "#1a1a1a", align: "left", verticalAlign: "middle" },
      silent: true,
    });
  });

  return {
    animation: false,
    backgroundColor: "#ffffff",
    grid,
    xAxis,
    yAxis,
    series,
    graphic,
  };
}

export default function App() {
  const ref = useRef<HTMLDivElement>(null);
  useEffect(() => {
    if (!ref.current) return;
    const chart = echarts.init(ref.current, undefined, { renderer: "svg" });
    chart.setOption(buildOption());
    return () => chart.dispose();
  }, []);
  return (
    <div
      ref={ref}
      style={{ position: "absolute", left: 0, top: 0, width: 1320, height: 671, background: "#ffffff" }}
    />
  );
}
